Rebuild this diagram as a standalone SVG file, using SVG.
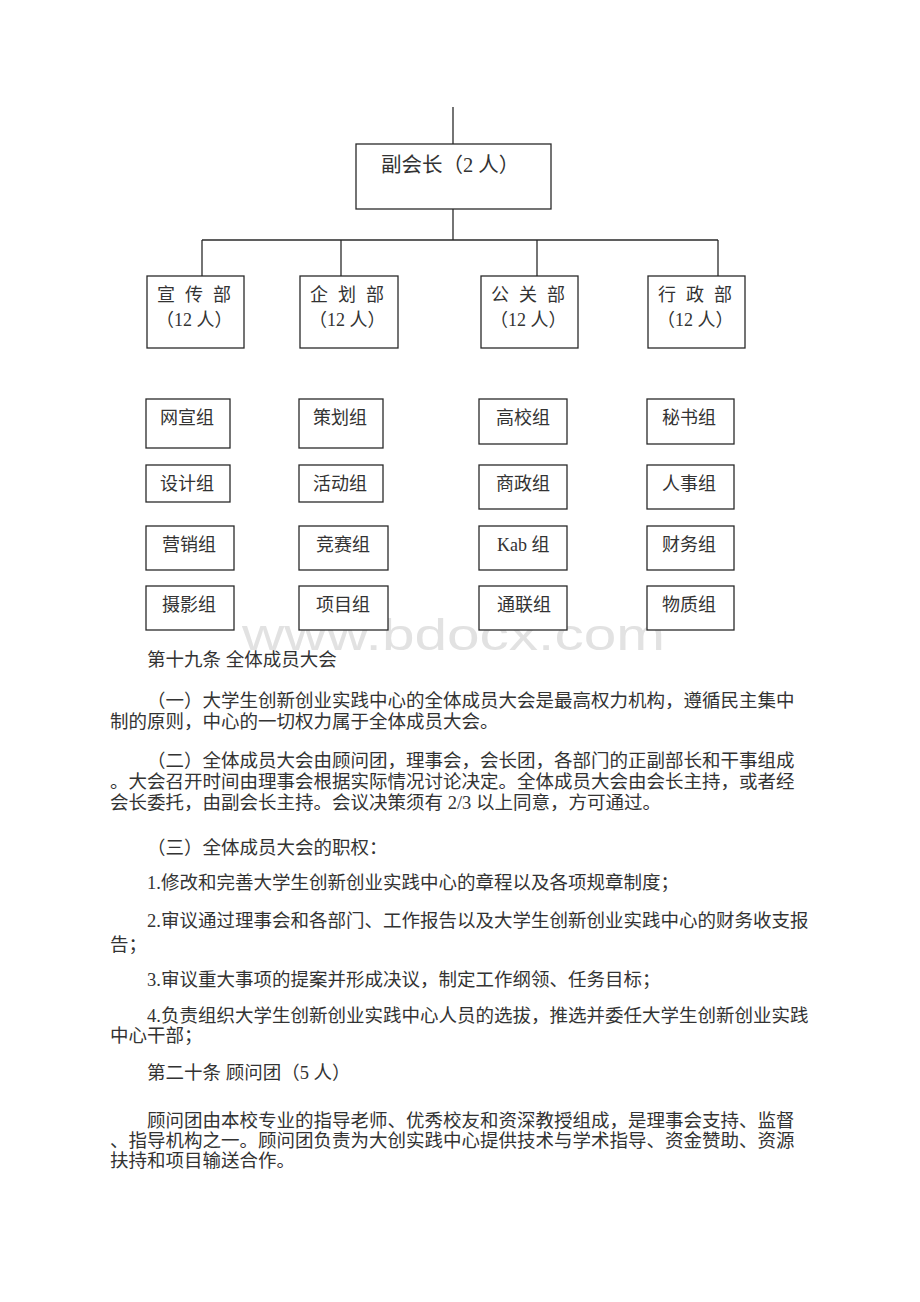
<svg xmlns="http://www.w3.org/2000/svg" width="920" height="1302" viewBox="0 0 920 1302">
<style>
.bg{fill:#ffffff}
.box{fill:#ffffff;stroke:#2a2a2a;stroke-width:1.3}
.conn{stroke:#2a2a2a;stroke-width:1.3;fill:none}
.t{font-family:"Liberation Serif","Noto Sans CJK SC",serif;fill:#333333}
.head{font-size:20.5px}
.dept{font-size:18px}
.grp{font-size:18px}
.body{font-size:18.5px}
.wm{font-family:"Liberation Sans",Arial,sans-serif;font-size:44px;fill:#e2e2e2}
</style>
<rect class="bg" x="0" y="0" width="920" height="1302"/>
<text class="wm" x="242" y="650" textLength="423" lengthAdjust="spacingAndGlyphs">www.bdocx.com</text>

<g id="connectors">
<line class="conn" x1="453" y1="107" x2="453" y2="144"/>
<line class="conn" x1="453" y1="206" x2="453" y2="240"/>
<line class="conn" x1="202" y1="240" x2="718" y2="240"/>
<line class="conn" x1="202" y1="240" x2="202" y2="276"/>
<line class="conn" x1="341" y1="240" x2="341" y2="276"/>
<line class="conn" x1="537" y1="240" x2="537" y2="276"/>
<line class="conn" x1="718" y1="240" x2="718" y2="276"/>
</g>

<g id="vice-president">
<rect class="box" x="356" y="144" width="195" height="65"/>
<text class="t head" x="381" y="172">副会长（2 人）</text>
</g>

<g id="dept-xuanchuan">
<rect class="box" x="147" y="276" width="97" height="72"/>
<text class="t dept" x="157 185 213" y="301">宣传部</text>
<text class="t dept" x="156" y="326">（12 人）</text>
</g>
<g id="dept-qihua">
<rect class="box" x="300" y="276" width="98" height="72"/>
<text class="t dept" x="310 338 366" y="301">企划部</text>
<text class="t dept" x="309" y="326">（12 人）</text>
</g>
<g id="dept-gongguan">
<rect class="box" x="481" y="276" width="97" height="72"/>
<text class="t dept" x="491 519 547" y="301">公关部</text>
<text class="t dept" x="490" y="326">（12 人）</text>
</g>
<g id="dept-xingzheng">
<rect class="box" x="648" y="276" width="97" height="72"/>
<text class="t dept" x="658 686 714" y="301">行政部</text>
<text class="t dept" x="657" y="326">（12 人）</text>
</g>

<g id="grp-wangxuan"><rect class="box" x="146" y="399" width="84" height="49"/><text class="t grp" x="160" y="424">网宣组</text></g>
<g id="grp-cehua"><rect class="box" x="299" y="399" width="84" height="49"/><text class="t grp" x="313" y="424">策划组</text></g>
<g id="grp-gaoxiao"><rect class="box" x="479" y="399" width="88" height="45"/><text class="t grp" x="496" y="424">高校组</text></g>
<g id="grp-mishu"><rect class="box" x="647" y="399" width="87" height="45"/><text class="t grp" x="662" y="424">秘书组</text></g>

<g id="grp-sheji"><rect class="box" x="146" y="465" width="84" height="37"/><text class="t grp" x="160" y="490">设计组</text></g>
<g id="grp-huodong"><rect class="box" x="299" y="465" width="84" height="37"/><text class="t grp" x="313" y="490">活动组</text></g>
<g id="grp-shangzheng"><rect class="box" x="479" y="465" width="88" height="44"/><text class="t grp" x="496" y="490">商政组</text></g>
<g id="grp-renshi"><rect class="box" x="647" y="465" width="87" height="44"/><text class="t grp" x="662" y="490">人事组</text></g>

<g id="grp-yingxiao"><rect class="box" x="146" y="526" width="88" height="44"/><text class="t grp" x="162" y="551">营销组</text></g>
<g id="grp-jingsai"><rect class="box" x="299" y="526" width="89" height="44"/><text class="t grp" x="316" y="551">竞赛组</text></g>
<g id="grp-kab"><rect class="box" x="479" y="526" width="88" height="44"/><text class="t grp" x="497" y="551">Kab 组</text></g>
<g id="grp-caiwu"><rect class="box" x="647" y="526" width="87" height="44"/><text class="t grp" x="662" y="551">财务组</text></g>

<g id="grp-sheying"><rect class="box" x="146" y="586" width="88" height="44"/><text class="t grp" x="162" y="611">摄影组</text></g>
<g id="grp-xiangmu"><rect class="box" x="299" y="586" width="89" height="44"/><text class="t grp" x="316" y="611">项目组</text></g>
<g id="grp-tonglian"><rect class="box" x="479" y="586" width="88" height="44"/><text class="t grp" x="497" y="611">通联组</text></g>
<g id="grp-wuzhi"><rect class="box" x="647" y="586" width="87" height="44"/><text class="t grp" x="662" y="611">物质组</text></g>

<g id="body-text">
<text class="t body" x="147" y="665.5">第十九条 全体成员大会</text>
<text class="t body" x="147" y="706.5">（一）大学生创新创业实践中心的全体成员大会是最高权力机构，遵循民主集中</text>
<text class="t body" x="110" y="727.5">制的原则，中心的一切权力属于全体成员大会。</text>
<text class="t body" x="147" y="766.5">（二）全体成员大会由顾问团，理事会，会长团，各部门的正副部长和干事组成</text>
<text class="t body" x="110" y="788">。大会召开时间由理事会根据实际情况讨论决定。全体成员大会由会长主持，或者经</text>
<text class="t body" x="110" y="808.5">会长委托，由副会长主持。会议决策须有 2/3 以上同意，方可通过。</text>
<text class="t body" x="147" y="853.5">（三）全体成员大会的职权：</text>
<text class="t body" x="147" y="888.5">1.修改和完善大学生创新创业实践中心的章程以及各项规章制度；</text>
<text class="t body" x="147" y="927">2.审议通过理事会和各部门、工作报告以及大学生创新创业实践中心的财务收支报</text>
<text class="t body" x="110" y="951">告；</text>
<text class="t body" x="147" y="985.5">3.审议重大事项的提案并形成决议，制定工作纲领、任务目标；</text>
<text class="t body" x="147" y="1021.5">4.负责组织大学生创新创业实践中心人员的选拔，推选并委任大学生创新创业实践</text>
<text class="t body" x="110" y="1041.5">中心干部；</text>
<text class="t body" x="147" y="1078.5">第二十条 顾问团（5 人）</text>
<text class="t body" x="147" y="1126.5">顾问团由本校专业的指导老师、优秀校友和资深教授组成，是理事会支持、监督</text>
<text class="t body" x="110" y="1146.5">、指导机构之一。顾问团负责为大创实践中心提供技术与学术指导、资金赞助、资源</text>
<text class="t body" x="110" y="1166.5">扶持和项目输送合作。</text>
</g>
</svg>
